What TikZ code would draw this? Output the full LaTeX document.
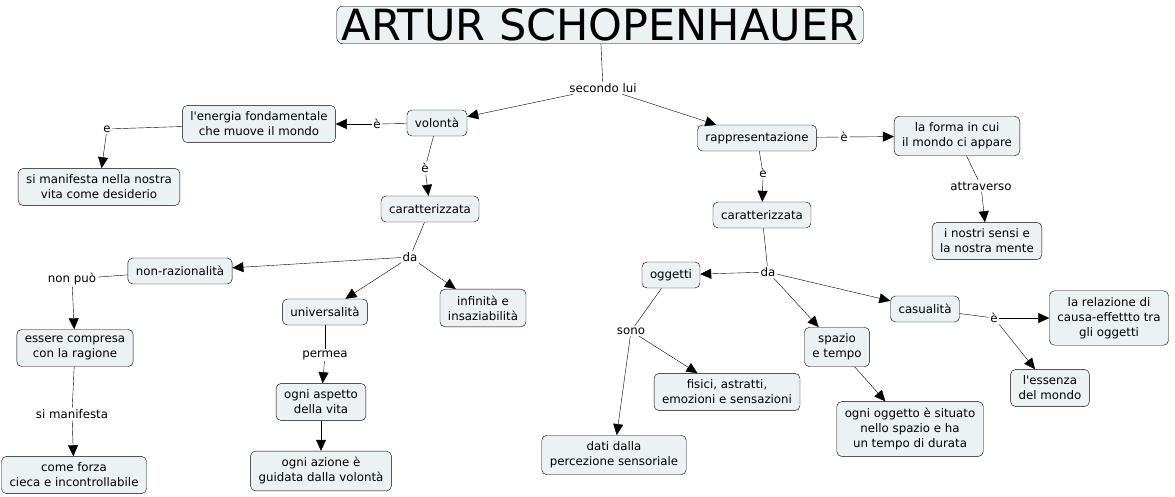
\documentclass[tikz,border=0pt]{standalone}
\usepackage{fontspec}
\setmainfont{DejaVu Sans}
\usetikzlibrary{arrows.meta}
\definecolor{cmapfill}{HTML}{ECF2F4}

\begin{document}
\begin{tikzpicture}[
    x=1pt, y=-1pt,
    concept/.style={draw=black, fill=cmapfill, rounded corners=5pt, align=center,
                    font=\fontsize{11.8}{15}\selectfont, inner xsep=8pt, inner ysep=6.5pt,
                    minimum height=26pt},
    link/.style={font=\fontsize{11.8}{13}\selectfont, inner sep=1.5pt},
    arr/.style={-{Triangle[length=11pt,width=10pt]}},
]
    \useasboundingbox (0,0) rectangle (1175,497);

    \node[concept, font=\fontsize{43}{46}\selectfont, inner xsep=5pt, inner ysep=2.5pt, rounded corners=6pt] (title) at (600,25) {ARTUR SCHOPENHAUER};
    \node[link] (secondo) at (603,88) {secondo lui};

    % volonta
    \node[concept] (volonta) at (437,123) {volontà};
    \node[concept] (energia) at (259,124) {l\textquotesingle energia fondamentale\\che muove il mondo};
    \node[concept] (desiderio) at (99,187) {si manifesta nella nostra\\vita come desiderio};
    \node[concept] (caratvol) at (430,209) {caratterizzata};
    \node[concept] (nonraz) at (180,271) {non-razionalità};
    \node[concept] (univ) at (325,312) {universalità};
    \node[concept] (infin) at (483,308) {infinità e\\insaziabilità};
    \node[concept] (compresa) at (75,348) {essere compresa\\con la ragione};
    \node[concept] (forza) at (74,475) {come forza\\cieca e incontrollabile};
    \node[concept] (aspetto) at (321,402) {ogni aspetto\\della vita};
    \node[concept] (azione) at (321,471) {ogni azione è\\guidata dalla volontà};

    \node[link] (lvolen) at (377,124) {è};
    \node[link] (lenedes) at (107,129) {e};
    \node[link] (lvolcar) at (425,168) {è};
    \node[link] (ldavol) at (410,257) {da};
    \node[link] (lnonpuo) at (72,279) {non può};
    \node[link] (lsimanif) at (72,414) {si manifesta};
    \node[link] (lpermea) at (325,355) {permea};

    % rappresentazione
    \node[concept] (rappr) at (757,138) {rappresentazione};
    \node[concept] (forma) at (957,136) {la forma in cui\\il mondo ci appare};
    \node[concept] (sensi) at (987,241) {i nostri sensi e\\la nostra mente};
    \node[concept] (caratrap) at (762,215) {caratterizzata};
    \node[concept] (oggetti) at (671,275) {oggetti};
    \node[concept] (casual) at (925,309) {casualità};
    \node[concept] (spazio) at (837,347) {spazio\\e tempo};
    \node[concept] (fisici) at (727,392) {fisici, astratti,\\emozioni e sensazioni};
    \node[concept] (dati) at (614,455) {dati dalla\\percezione sensoriale};
    \node[concept] (situato) at (910,429) {ogni oggetto è situato\\nello spazio e ha\\un tempo di durata};
    \node[concept] (relazione) at (1109,318) {la relazione di\\causa-effettto tra\\gli oggetti};
    \node[concept] (essenza) at (1050,388) {l\textquotesingle essenza\\del mondo};

    \node[link] (lrapfor) at (844,137) {è};
    \node[link] (lattrav) at (981,186) {attraverso};
    \node[link] (lrapcar) at (763,173) {è};
    \node[link] (ldarap) at (768,272) {da};
    \node[link] (lsono) at (631,331) {sono};
    \node[link] (lcasual) at (994,318) {è};

    % connectors
    \draw (title) -- (secondo);
    \draw[arr] (secondo) -- (volonta);
    \draw[arr] (secondo) -- (rappr);

    \draw (volonta) -- (lvolen);
    \draw[arr] (lvolen) -- (energia);
    \draw (energia) -- (lenedes);
    \draw[arr] (lenedes) -- (desiderio);
    \draw (volonta) -- (lvolcar);
    \draw[arr] (lvolcar) -- (caratvol);
    \draw (caratvol) -- (ldavol);
    \draw[arr] (ldavol) -- (nonraz);
    \draw[arr] (ldavol) -- (univ);
    \draw[arr] (ldavol) -- (infin);
    \draw (nonraz) -- (lnonpuo);
    \draw[arr] (lnonpuo) -- (compresa);
    \draw (compresa) -- (lsimanif);
    \draw[arr] (lsimanif) -- (forza);
    \draw (univ) -- (lpermea);
    \draw[arr] (lpermea) -- (aspetto);
    \draw[arr] (aspetto) -- (azione);

    \draw (rappr) -- (lrapfor);
    \draw[arr] (lrapfor) -- (forma);
    \draw (forma) -- (lattrav);
    \draw[arr] (lattrav) -- (sensi);
    \draw (rappr) -- (lrapcar);
    \draw[arr] (lrapcar) -- (caratrap);
    \draw (caratrap) -- (ldarap);
    \draw[arr] (ldarap) -- (oggetti);
    \draw[arr] (ldarap) -- (casual);
    \draw[arr] (ldarap) -- (spazio);
    \draw (oggetti) -- (lsono);
    \draw[arr] (lsono) -- (fisici);
    \draw[arr] (lsono) -- (dati);
    \draw[arr] (spazio) -- (situato);
    \draw (casual) -- (lcasual);
    \draw[arr] (lcasual) -- (relazione);
    \draw[arr] (lcasual) -- (essenza);
\end{tikzpicture}
\end{document}
